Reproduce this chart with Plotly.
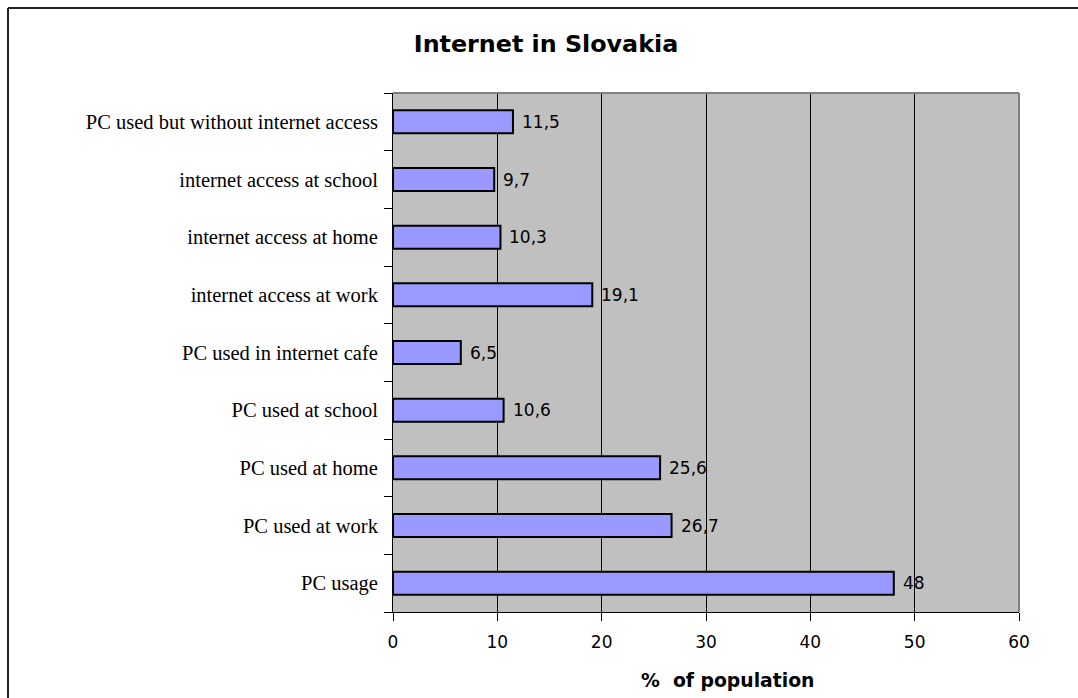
import plotly.graph_objects as go

# Survey categories (bottom to top) and share of population in %
categories = [
    "PC usage",
    "PC used at work",
    "PC used at home",
    "PC used at school",
    "PC used in internet cafe",
    "internet access at work",
    "internet access at home",
    "internet access at school",
    "PC used but without internet access",
]
values = [48, 26.7, 25.6, 10.6, 6.5, 19.1, 10.3, 9.7, 11.5]
x_ticks = [0, 10, 20, 30, 40, 50, 60]

labels = [f"{v:g}".replace(".", ",") for v in values]

W, H = 1078, 698
L, R, T, B = 393, 59, 93, 86
pw, ph = W - L - R, H - T - B

SANS = "DejaVu Sans, Arial"
SERIF = "Liberation Serif, Times New Roman"

fig = go.Figure()
fig.add_trace(go.Bar(
    x=values,
    y=categories,
    orientation="h",
    width=0.4,
    marker=dict(color="#9999FF", line=dict(color="#000000", width=2)),
    hoverinfo="skip",
))

for v, c, t in zip(values, categories, labels):
    fig.add_annotation(
        x=v, y=c, text=t, showarrow=False, xanchor="left", xshift=7,
        font=dict(family=SANS, size=17, color="#000"),
    )

# axis title placed under the tick labels
fig.add_annotation(
    text="<b>%  of population</b>", xref="paper", yref="paper",
    x=(727 - L) / pw, y=-(680 - (H - B)) / ph, xanchor="center", yanchor="middle",
    showarrow=False, font=dict(family=SANS, size=18.8, color="#000"),
)

# outer frame (top and left edges visible)
fx0 = (8 - L) / pw
fy1 = (H - B - 8) / ph
fig.add_shape(type="line", xref="paper", yref="paper", x0=fx0, x1=(W + 20 - L) / pw,
              y0=fy1, y1=fy1, line=dict(color="#222", width=2))
fig.add_shape(type="line", xref="paper", yref="paper", x0=fx0, x1=fx0,
              y0=fy1, y1=-(B + 20) / ph, line=dict(color="#222", width=2))
# plot area border: top and right in gray
fig.add_shape(type="line", xref="paper", yref="paper", x0=0, x1=1, y0=1, y1=1,
              line=dict(color="#808080", width=2))
fig.add_shape(type="line", xref="paper", yref="paper", x0=1, x1=1, y0=0, y1=1,
              line=dict(color="#808080", width=2))

fig.update_layout(
    width=W, height=H,
    margin=dict(l=L, r=R, t=T, b=B),
    paper_bgcolor="#FFFFFF",
    plot_bgcolor="#C0C0C0",
    showlegend=False,
    title=dict(
        text="<b>Internet in Slovakia</b>",
        x=546 / W, xref="container", xanchor="center",
        y=1 - 44 / H, yref="container", yanchor="middle",
        font=dict(family=SANS, size=23.8, color="#000"),
    ),
    xaxis=dict(
        range=[0, 60],
        tickvals=x_ticks,
        ticks="outside", ticklen=8, tickcolor="#000", tickwidth=1,
        showline=True, linecolor="#000", linewidth=1,
        showgrid=True, gridcolor="#000", gridwidth=1,
        zeroline=False,
        tickfont=dict(family=SANS, size=17, color="#000"),
        ticklabelstandoff=7,
    ),
    yaxis=dict(
        categoryorder="array", categoryarray=categories,
        ticks="outside", ticklen=8, tickcolor="#000", tickson="boundaries",
        showline=True, linecolor="#000", linewidth=1,
        showgrid=False,
        tickfont=dict(family=SERIF, size=20.5, color="#000"),
        ticklabelstandoff=10,
    ),
)

fig.write_html("out.html")
